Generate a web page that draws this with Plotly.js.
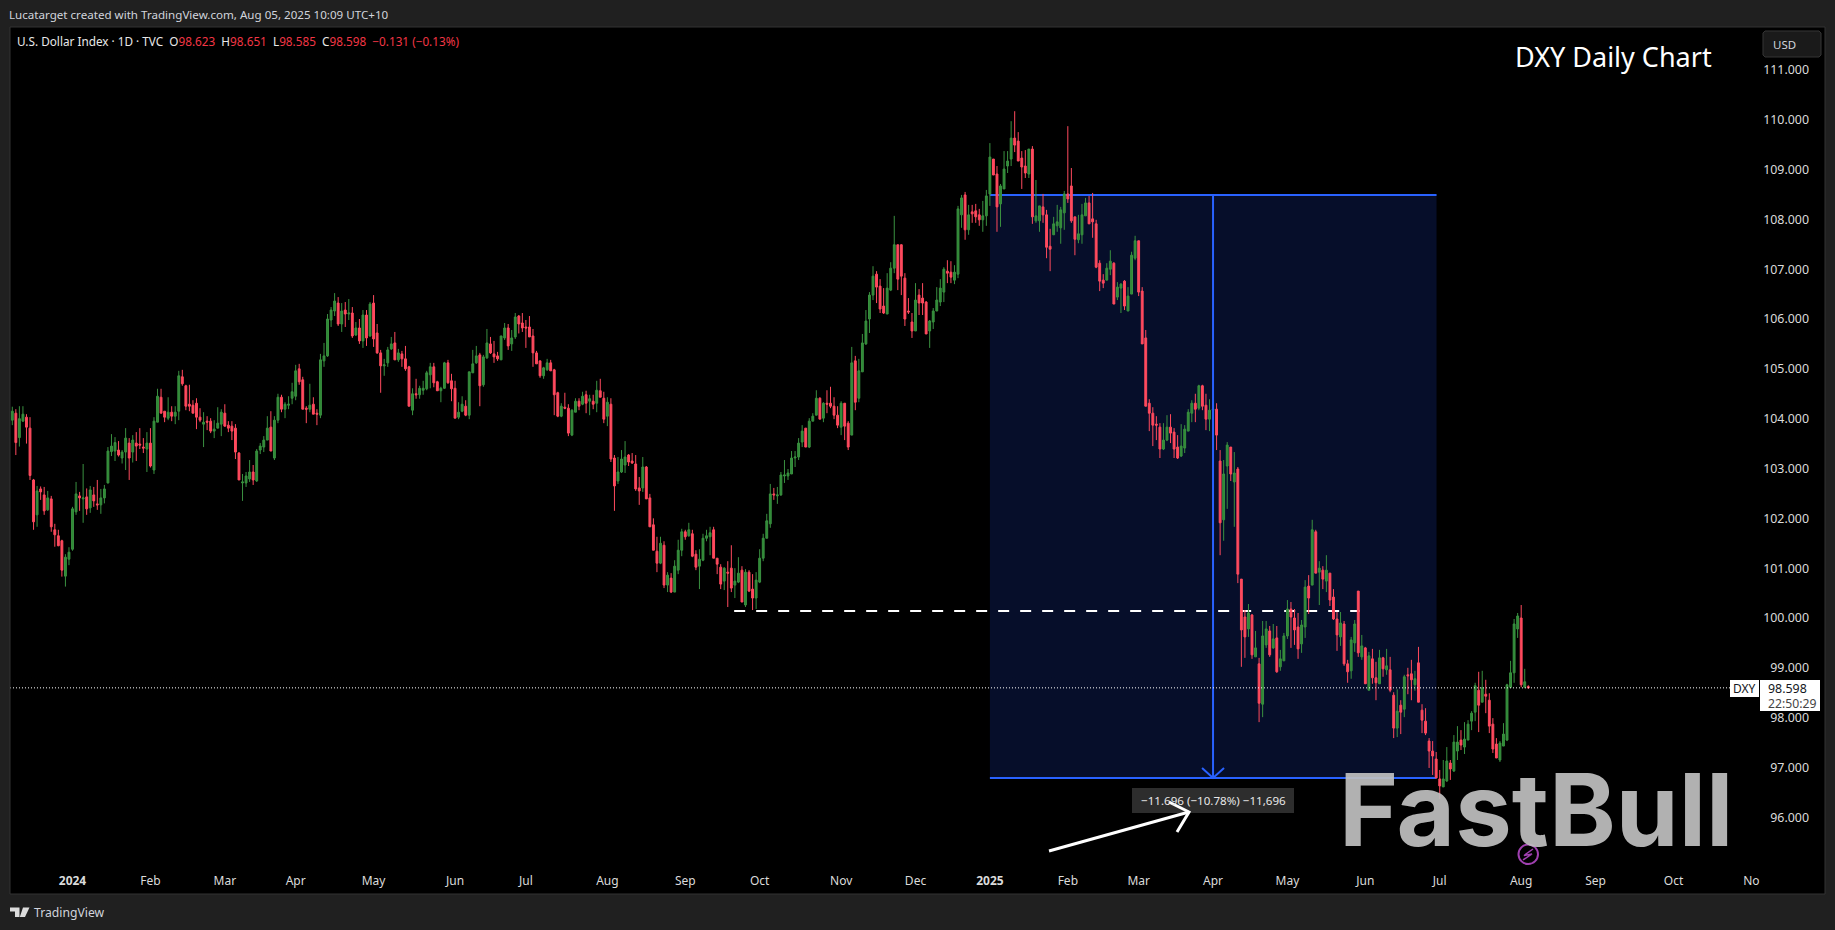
<!DOCTYPE html>
<html><head><meta charset="utf-8">
<script src="https://cdn.plot.ly/plotly-3.0.1.min.js"></script>
<style>html,body{margin:0;padding:0;background:#202020;overflow:hidden}#c{width:1835px;height:930px}</style>
</head><body><div id="c"></div>
<script>
const opens=[103.97,104.11,103.62,103.95,104.03,103.81,102.77,102.07,102.59,102.47,
102.17,102.39,101.77,101.65,101.55,100.84,101.18,101.38,102.13,102.45,
102.39,102.43,102.21,102.47,102.29,102.27,102.41,102.71,103.34,103.35,
103.37,103.21,103.33,103.51,103.33,103.51,103.49,103.43,103.39,103.51,
102.97,103.93,104.43,104.15,104.01,104.13,104.05,104.15,104.84,104.66,
104.29,104.27,104.31,104.03,103.89,103.95,103.95,103.75,103.81,103.89,
104.11,103.87,103.85,103.81,103.31,102.71,102.71,102.79,102.93,102.75,
103.37,103.43,103.57,103.83,103.21,103.97,104.43,104.19,104.27,104.41,
104.45,105.00,104.78,104.21,104.19,104.29,104.11,104.07,105.16,105.26,
105.98,106.16,106.32,105.90,106.18,106.10,106.12,105.68,105.82,105.56,
106.08,105.66,106.32,105.72,105.32,105.06,105.12,105.40,105.52,105.18,
105.30,105.20,105.04,104.17,104.50,104.48,104.57,104.60,104.88,105.04,
104.74,104.56,104.61,105.12,104.76,104.61,104.03,104.15,104.25,104.07,
104.92,105.12,105.28,104.68,105.22,105.50,105.30,105.26,105.18,105.62,
105.82,105.50,105.64,106.06,105.92,105.84,105.84,105.66,105.32,105.16,
104.86,104.98,105.12,104.98,104.52,104.05,104.23,104.21,103.67,104.13,
104.35,104.29,104.48,104.35,104.35,104.31,104.56,104.41,104.05,104.29,
103.21,102.75,102.93,103.07,103.27,103.15,103.09,102.61,102.61,103.03,
102.41,101.87,101.34,101.10,101.46,100.66,100.80,100.52,100.96,101.36,
101.73,101.65,101.69,101.28,101.04,101.16,101.60,101.63,101.77,101.20,
101.02,100.74,100.92,101.00,100.66,100.72,100.96,100.26,100.92,100.58,
100.40,100.72,101.20,101.60,101.89,102.49,102.45,102.47,102.85,102.85,
102.89,103.21,103.23,103.53,103.81,103.43,103.95,104.07,104.41,104.01,
104.31,104.31,104.25,104.07,103.83,104.31,103.91,103.67,105.16,104.41,
104.94,105.50,106.00,106.48,106.90,106.66,106.26,106.10,106.58,107.02,
107.49,107.49,106.82,106.16,105.94,105.76,106.48,106.42,106.34,105.76,
105.94,106.16,106.34,106.54,106.96,106.94,106.78,106.90,108.09,108.49,
107.79,108.15,108.17,108.09,107.99,108.07,108.51,109.21,108.91,108.31,
108.61,109.07,109.21,109.63,109.57,109.23,109.07,108.91,109.41,107.97,
107.97,108.25,108.09,107.46,107.69,107.87,107.83,108.13,108.51,108.67,
108.05,107.59,107.69,108.07,108.33,108.01,107.91,107.12,106.78,106.78,
107.00,107.12,106.44,106.62,106.76,106.16,106.50,107.22,107.57,106.56,
105.62,104.31,104.11,103.89,103.83,103.39,103.57,103.83,103.73,103.43,
103.25,103.41,103.75,104.11,104.31,104.21,104.66,104.27,103.99,104.17,
104.19,103.15,101.97,103.05,103.43,102.73,102.99,100.78,100.02,99.78,
100.06,99.22,99.08,98.27,99.46,99.74,99.40,99.60,99.02,99.14,
99.64,100.18,100.00,99.82,99.48,99.82,100.64,100.66,101.73,100.92,
100.96,100.74,100.90,100.42,99.98,99.62,99.88,99.08,98.94,99.50,
100.54,99.22,99.40,98.55,99.18,98.80,98.68,99.20,98.96,98.96,
98.45,97.79,98.25,98.17,98.86,98.88,98.66,99.10,98.15,97.93,
97.53,97.33,97.17,96.77,96.61,96.73,97.09,96.93,97.33,97.55,
97.41,97.55,97.93,98.11,98.55,98.31,98.47,98.35,97.87,97.47,
97.15,97.43,97.55,98.61,98.90,99.78,100.00,98.61,98.623];
const highs=[104.24,104.19,104.25,104.25,104.09,104.03,102.79,102.65,102.64,102.63,
102.55,102.45,101.89,101.77,101.57,101.28,101.42,102.23,102.73,102.53,
103.09,102.60,102.65,102.63,102.77,102.59,102.67,103.43,103.69,103.63,
103.55,103.37,103.81,103.61,103.67,103.73,103.81,103.61,103.73,103.81,
104.03,104.60,104.60,104.15,104.43,104.25,104.25,104.96,104.98,104.68,
104.68,104.37,104.41,104.21,104.13,104.05,104.01,103.97,104.23,104.19,
104.29,103.95,103.95,103.89,103.33,102.89,102.93,103.17,103.07,103.39,
103.51,103.65,104.05,104.15,104.05,104.50,104.48,104.33,104.45,104.72,
105.08,105.10,104.84,104.25,104.70,104.43,104.19,105.30,105.52,106.10,
106.24,106.52,106.44,106.32,106.34,106.40,106.24,105.94,106.00,106.18,
106.18,106.34,106.48,105.90,105.38,105.20,105.44,105.64,105.74,105.40,
105.36,105.46,105.06,104.61,104.80,104.66,104.76,104.96,105.12,105.12,
104.76,104.64,105.14,105.18,104.90,104.76,104.33,104.45,104.37,104.94,
105.38,105.46,105.32,105.28,105.80,105.64,105.56,105.34,105.66,105.92,
105.90,105.78,106.12,106.08,106.12,105.98,106.06,105.80,105.36,105.16,
105.04,105.20,105.18,105.00,104.54,104.31,104.52,104.29,104.19,104.41,
104.41,104.54,104.56,104.48,104.48,104.76,104.80,104.54,104.43,104.41,
103.27,103.23,103.37,103.55,103.29,103.31,103.27,102.83,103.23,103.05,
102.49,102.00,101.63,101.63,101.54,100.92,100.90,101.16,101.57,101.79,
101.77,101.91,101.77,101.36,101.38,101.69,101.77,101.83,101.83,101.20,
101.08,101.02,101.14,101.46,101.00,101.22,101.04,100.98,100.96,100.88,
100.92,101.38,101.69,102.09,102.69,102.61,102.63,102.93,103.17,102.99,
103.35,103.35,103.61,103.87,103.81,104.01,104.11,104.57,104.43,104.33,
104.57,104.64,104.43,104.25,104.35,104.31,103.95,105.44,105.26,105.20,
105.70,106.18,106.54,107.06,106.96,106.80,106.62,106.92,107.14,108.07,
107.49,107.50,106.92,106.42,106.12,106.72,106.60,106.72,106.36,105.98,
106.22,106.64,106.80,107.04,107.18,107.16,107.08,108.27,108.49,108.55,
108.29,108.29,108.31,108.21,108.37,108.59,109.53,109.21,109.07,108.71,
109.37,109.37,109.97,110.17,109.75,109.37,109.39,109.41,109.47,108.79,
108.27,108.51,108.19,107.81,108.05,108.29,108.25,108.57,109.87,109.03,
108.05,108.09,108.31,108.43,108.47,108.53,107.99,107.18,106.90,107.12,
107.38,107.14,106.74,106.72,106.78,106.64,107.35,107.67,107.57,106.64,
105.78,104.39,104.23,104.05,103.91,103.91,104.07,104.09,103.81,103.67,
103.89,103.87,104.19,104.37,104.50,104.68,104.68,104.50,104.39,104.37,
104.31,103.37,103.17,103.53,103.43,103.33,103.03,100.78,100.16,100.28,
100.08,99.74,99.20,99.94,99.94,99.84,99.88,99.84,99.36,99.70,
100.36,100.32,100.18,100.10,99.96,100.76,100.86,101.97,101.77,101.14,
101.04,101.26,100.90,100.58,100.12,100.12,99.94,99.16,99.62,99.96,
100.54,99.66,99.42,99.32,99.38,99.12,99.36,99.22,99.38,99.22,
98.51,98.57,98.35,98.86,99.00,99.16,98.94,99.42,98.27,98.19,
97.59,97.53,97.31,96.95,97.15,97.41,97.15,97.65,97.83,97.75,
97.91,97.95,98.13,98.70,98.92,98.94,98.76,98.49,97.99,97.59,
97.53,97.89,98.68,99.14,99.98,100.10,100.26,98.98,98.651];
const lows=[103.87,103.27,103.44,103.94,103.50,102.77,101.77,101.83,102.37,102.07,
102.15,101.73,101.43,101.44,100.83,100.63,101.06,101.35,102.07,102.15,
101.91,102.07,102.11,102.23,102.17,102.09,102.30,102.70,103.25,103.15,
103.24,103.10,102.97,102.77,103.12,103.15,103.39,103.31,102.93,103.02,
102.89,103.93,104.11,103.93,103.97,103.95,103.89,103.97,104.66,104.17,
104.15,104.11,103.79,103.93,103.43,103.77,103.71,103.61,103.81,103.65,
103.84,103.73,103.57,103.19,102.77,102.35,102.63,102.73,102.67,102.73,
103.29,103.33,103.57,103.35,103.17,103.91,104.13,104.01,104.19,104.29,
104.37,104.68,104.19,103.91,104.13,104.09,103.87,104.01,105.04,105.24,
105.84,106.06,105.86,105.74,105.84,105.98,105.62,105.66,105.50,105.42,
105.46,105.64,105.44,105.30,104.52,104.86,105.04,105.38,105.18,105.14,
105.04,104.96,104.25,104.07,104.40,104.40,104.48,104.57,104.61,104.63,
104.56,104.33,104.60,104.70,104.35,104.01,103.99,104.13,104.05,103.99,
104.92,105.10,104.25,104.64,105.20,105.30,105.12,105.16,105.18,105.58,
105.38,105.36,105.60,105.71,105.74,105.42,105.64,105.04,105.10,104.82,
104.80,104.96,104.96,104.07,104.03,104.03,104.19,103.65,103.65,104.13,
104.17,104.27,104.11,104.07,104.19,104.13,104.43,103.91,103.85,103.13,
102.15,102.69,102.91,102.91,103.05,103.09,102.55,102.27,102.53,102.39,
101.83,101.36,100.92,101.08,100.60,100.52,100.50,100.52,100.88,101.24,
101.57,101.63,101.22,100.96,100.58,101.14,101.54,101.26,101.20,100.88,
100.58,100.56,100.22,100.52,100.40,100.70,100.32,100.22,100.52,100.16,
100.18,100.70,101.14,101.60,101.81,102.37,102.29,102.45,102.71,102.77,
102.89,103.03,103.17,103.43,103.43,103.41,103.95,104.07,103.99,103.93,
104.11,104.21,103.99,103.81,103.67,103.57,103.37,103.67,104.17,104.33,
104.94,105.48,105.72,106.38,106.32,106.12,106.10,106.10,106.56,106.92,
106.58,106.48,105.86,106.10,105.62,105.76,106.08,106.08,105.70,105.42,
105.80,106.16,106.26,106.34,106.72,106.72,106.70,106.82,107.83,107.59,
107.69,107.93,107.93,107.87,107.75,107.87,108.27,108.89,107.75,107.85,
108.61,108.93,109.07,109.35,109.17,108.61,108.83,108.83,107.91,107.93,
107.75,107.93,107.22,106.96,107.69,107.75,107.51,107.79,108.33,107.93,
107.28,107.52,107.51,108.07,107.91,107.63,107.02,106.56,106.62,106.78,
106.88,106.30,106.38,106.12,106.18,106.16,106.50,107.18,106.46,105.50,
104.25,103.75,103.45,103.57,103.21,103.37,103.55,103.51,103.21,103.19,
103.23,103.31,103.75,103.93,103.93,104.17,104.17,103.77,103.75,103.97,
103.37,101.26,101.55,102.19,102.75,101.83,100.70,99.02,99.20,99.62,
99.18,99.22,97.91,98.01,99.40,99.22,99.38,98.90,98.94,99.14,
99.58,99.40,99.46,99.18,99.30,99.60,100.08,100.66,100.90,100.26,
100.58,100.52,100.24,99.96,99.34,99.44,99.04,98.70,98.78,99.32,
99.22,99.16,98.68,98.55,98.68,98.35,98.68,98.82,98.86,98.51,
97.59,97.61,97.67,98.01,98.47,98.35,98.54,98.31,97.69,97.65,
96.99,96.85,96.79,96.37,96.61,96.71,96.75,96.91,97.15,97.35,
97.27,97.55,97.75,97.93,97.71,98.31,98.09,97.69,97.29,97.19,
97.11,97.43,97.53,98.61,98.70,99.60,98.61,98.59,98.585];
const closes=[104.15,103.52,104.00,104.09,103.83,102.86,101.93,102.55,102.53,102.15,
102.41,101.83,101.67,101.45,100.96,101.22,101.32,102.19,102.49,102.41,
102.41,102.19,102.57,102.35,102.27,102.41,102.59,103.35,103.45,103.52,
103.27,103.33,103.61,103.21,103.57,103.45,103.47,103.41,103.51,103.05,
103.95,104.45,104.11,104.03,104.13,104.05,104.13,104.86,104.70,104.25,
104.25,104.11,104.03,103.97,103.93,103.93,103.75,103.79,103.91,104.13,
103.85,103.81,103.75,103.33,102.77,102.73,102.85,102.93,102.77,103.35,
103.45,103.57,103.81,103.35,103.97,104.43,104.19,104.29,104.29,104.54,
104.96,104.74,104.19,104.19,104.27,104.09,104.09,105.18,105.26,106.00,
106.18,106.36,105.90,106.16,106.10,106.12,105.66,105.82,105.56,106.08,
105.62,106.30,105.60,105.32,105.06,105.08,105.38,105.50,105.18,105.32,
105.20,105.00,104.25,104.50,104.48,104.61,104.61,104.92,105.04,104.72,
104.56,104.61,105.12,104.72,104.60,104.01,104.13,104.29,104.07,104.94,
105.10,105.26,104.66,105.24,105.52,105.32,105.24,105.20,105.66,105.82,
105.46,105.62,106.04,105.90,105.82,105.82,105.64,105.32,105.10,104.86,
105.02,105.12,104.96,104.48,104.05,104.25,104.21,103.71,104.17,104.35,
104.25,104.45,104.31,104.40,104.29,104.57,104.43,103.99,104.33,103.19,
102.65,102.93,103.19,103.23,103.13,103.11,102.59,102.55,103.03,102.39,
101.83,101.36,101.10,101.50,100.66,100.86,100.52,101.04,101.36,101.73,
101.63,101.77,101.24,101.02,101.18,101.60,101.65,101.71,101.20,101.08,
100.68,101.00,100.90,100.60,100.74,100.90,100.32,100.92,100.54,100.40,
100.76,101.20,101.60,101.95,102.49,102.47,102.47,102.87,102.87,102.91,
103.21,103.23,103.51,103.75,103.43,103.95,104.05,104.41,103.99,104.31,
104.29,104.25,104.07,103.87,104.31,103.85,103.43,105.12,104.33,104.96,
105.52,105.96,106.48,106.86,106.64,106.20,106.12,106.62,107.02,107.49,
106.80,106.86,106.00,106.14,105.76,106.38,106.32,106.32,105.70,105.96,
106.16,106.38,106.62,107.00,106.92,106.84,106.94,108.21,108.43,107.79,
108.09,108.11,108.05,107.99,108.07,108.47,109.25,108.89,108.25,108.67,
109.01,109.17,109.63,109.49,109.17,109.05,108.93,109.41,108.05,108.07,
108.27,108.09,107.44,107.40,107.91,107.95,108.19,108.51,108.41,107.97,
107.60,107.71,108.09,108.33,107.91,107.95,107.04,106.76,106.72,107.02,
107.16,106.30,106.64,106.70,106.26,106.46,107.28,107.57,106.54,105.50,
104.25,104.11,103.87,103.87,103.39,103.57,103.83,103.71,103.39,103.21,
103.45,103.79,104.13,104.31,104.19,104.66,104.25,103.99,104.17,104.19,
103.67,101.91,102.89,103.47,102.89,102.91,100.88,99.76,99.62,100.10,
99.26,99.40,98.29,99.64,99.78,99.26,99.58,98.92,99.18,99.64,
100.18,100.02,99.76,99.38,99.86,100.62,100.40,101.77,100.90,101.00,
100.78,100.96,100.36,99.98,99.66,99.90,99.08,98.92,99.56,99.88,
99.30,99.44,98.68,99.24,98.80,98.70,99.20,98.98,99.04,98.55,
97.79,98.13,98.11,98.82,98.84,98.76,98.78,98.31,97.95,97.69,
97.33,97.23,96.79,96.63,96.77,97.13,96.97,97.51,97.51,97.45,
97.57,97.87,98.09,98.64,98.25,98.60,98.43,97.83,97.37,97.19,
97.49,97.67,98.66,98.90,99.88,100.04,98.66,98.72,98.598];
const barIndex=opens.map((_,i)=>i);
const monthBars=[17,39,60,80,102,125,145,168,190,211,234,255,276,298,318,339,360,382,403,426,447,469,491];
const monthLabels=['<b>2024</b>','Feb','Mar','Apr','May','Jun','Jul','Aug','Sep','Oct','Nov','Dec','<b>2025</b>','Feb','Mar','Apr','May','Jun','Jul','Aug','Sep','Oct','No'];
const priceTicks=[96,97,98,99,100,101,102,103,104,105,106,107,108,109,110,111];
const measureTop=108.49, measureBottom=96.79, measureStartBar=276, measureEndBar=402.1, measureMidBar=339;
const supportLevel=100.14, supportStartBar=203.8, supportEndBar=380.4;
const lastPrice=98.598;

const FONT='"Noto Sans",sans-serif';
const W=1835,H=930,L=10,R=1825,T=27,B=894;
const px=x=>(x-L)/(R-L), py=y=>(B-y)/(B-T);
const pPath=pts=>pts.map((p,i)=>(i?'L':'M')+px(p[0]).toFixed(5)+' '+py(p[1]).toFixed(5)).join(' ');
const box=(x0,y0,x1,y1,fill,line)=>({type:'rect',xref:'paper',yref:'paper',x0:px(x0),x1:px(x1),y0:py(y0),y1:py(y1),fillcolor:fill,line:{color:line||fill,width:line?1:0},layer:'above'});
const poly=(pts,fill)=>({type:'path',xref:'paper',yref:'paper',path:pPath(pts)+' Z',fillcolor:fill,line:{width:0},layer:'above'});
const stroke=(pts,color,w)=>({type:'path',xref:'paper',yref:'paper',path:pPath(pts),line:{color:color,width:w},layer:'above'});
const txt=(x,y,text,size,color,anchor,extra)=>Object.assign({xref:'paper',yref:'paper',x:px(x),y:py(y),text:text,showarrow:false,xanchor:anchor||'left',yanchor:'middle',align:anchor||'left',borderpad:0,font:{family:FONT,size:size,color:color}},extra||{});

const RED='#f23645';
const red=s=>`<span style="color:${RED}">${s}</span>`;
const legend='U.S. Dollar Index · 1D · TVC\u00a0\u00a0O'+red('98.623')+'\u00a0\u00a0H'+red('98.651')+'\u00a0\u00a0L'+red('98.585')+'\u00a0\u00a0C'+red('98.598')+'\u00a0\u00a0'+red('−0.131 (−0.13%)');

const trace={type:'candlestick',x:barIndex,open:opens,high:highs,low:lows,close:closes,whiskerwidth:0,
 increasing:{line:{color:'#3a9140',width:1},fillcolor:'#2f8a35'},
 decreasing:{line:{color:'#ff4a5e',width:1},fillcolor:'#ff4a5e'},hoverinfo:'skip',showlegend:false};

const layout={width:W,height:H,paper_bgcolor:'#202020',plot_bgcolor:'#000',showlegend:false,boxgap:0.25,
 margin:{l:L,r:W-R,t:T,b:H-B,pad:0,autoexpand:false},
 xaxis:{type:'linear',range:[(L-12.3)/3.542,(R-12.3)/3.542],tickmode:'array',tickvals:monthBars,ticktext:monthLabels,
  showgrid:false,zeroline:false,showline:false,ticks:'',ticklabelposition:'inside',ticklabelstandoff:4,tickangle:0,
  tickfont:{family:FONT,size:12,color:'#dbdbdb'},rangeslider:{visible:false},fixedrange:true},
 yaxis:{type:'linear',side:'right',range:[94.461,111.860],tickmode:'array',tickvals:priceTicks,tickformat:'.3f',
  showgrid:false,zeroline:false,showline:false,ticks:'',ticklabelposition:'inside',ticklabelstandoff:13,
  tickfont:{family:FONT,size:12.4,color:'#dbdbdb'},fixedrange:true},
 shapes:[
  {type:'rect',xref:'x',yref:'y',x0:measureStartBar,x1:measureEndBar,y0:measureBottom,y1:measureTop,fillcolor:'#060e2a',line:{width:0},layer:'below'},
  {type:'line',xref:'x',yref:'y',x0:measureStartBar,x1:measureEndBar,y0:measureTop,y1:measureTop,line:{color:'#2962ff',width:2},layer:'below'},
  {type:'line',xref:'x',yref:'y',x0:measureStartBar,x1:measureEndBar,y0:measureBottom,y1:measureBottom,line:{color:'#2962ff',width:2},layer:'below'},
  {type:'line',xref:'x',yref:'y',x0:supportStartBar,x1:supportEndBar,y0:supportLevel,y1:supportLevel,line:{color:'#ffffff',width:2,dash:'11px,11px'},layer:'below'},
  {type:'line',xref:'x',yref:'y',x0:measureMidBar,x1:measureMidBar,y0:measureBottom,y1:measureTop,line:{color:'#2962ff',width:2},layer:'above'},
  {type:'path',xref:'x',yref:'y',path:`M ${measureMidBar-3.1} ${measureBottom+0.2} L ${measureMidBar} ${measureBottom} L ${measureMidBar+3.1} ${measureBottom+0.2}`,line:{color:'#2962ff',width:2},layer:'above'},
  {type:'line',xref:'paper',yref:'y',x0:0,x1:px(1730),y0:lastPrice,y1:lastPrice,line:{color:'#ffffff',width:1,dash:'1px,2px'},layer:'above'},
  box(1132,788,1294,813,'#2d2d2d'),
  stroke([[1049,851],[1189,812]],'#ffffff',3),
  stroke([[1169,802],[1189,812],[1177,832]],'#ffffff',3),
  box(1730,680,1759,697,'#ffffff'),
  box(1760,680,1820,711,'#ffffff'),
  {type:'path',xref:'paper',yref:'paper',path:pPath([[1765,31],[1819,31],[1821,33],[1821,55],[1819,57],[1765,57],[1763,55],[1763,33]])+' Z',fillcolor:'#1a1a1a',line:{color:'#363636',width:1},layer:'above'},
  {type:'rect',xref:'paper',yref:'paper',x0:0,x1:1,y0:0,y1:1,line:{color:'#333333',width:1},layer:'above'},
  {type:'circle',xref:'paper',yref:'paper',x0:px(1518.5),x1:px(1538),y0:py(864),y1:py(844.5),line:{color:'#a040b0',width:2},fillcolor:'rgba(0,0,0,0)',layer:'above'},
  stroke([[1533,849],[1524,855.5],[1532,854],[1523,860]],'#a040b0',1.5),
  poly([[10,907.5],[19.5,907.5],[19.5,917],[15,917],[15,911.5],[10,911.5]],'#dcdcdc'),
  poly([[23,907.5],[29.5,907.5],[25,917],[19.8,917]],'#dcdcdc')
 ],
 annotations:[
  txt(8,14,'Lucatarget created with TradingView.com, Aug 05, 2025 10:09 UTC+10',11.6,'#d1d4dc'),
  txt(15.5,41,legend,11.75,'#e8e8e8'),
  txt(1514,57,'DXY Daily Chart',27,'#ffffff'),
  txt(1772,44.5,'USD',11.5,'#d1d4dc'),
  txt(1213,800.5,'−11.696 (−10.78%) −11,696',11.6,'#e8e8e8','center'),
  txt(1744.5,688.5,'DXY',12,'#131722','center'),
  txt(1767,688.5,'98.598',12.4,'#131722'),
  txt(1767,703,'22:50:29',12.2,'#444444'),
  txt(33,912,'TradingView',12.2,'#d1d4dc'),
  Object.assign(txt(1338,809,'FastBull',101,'#000'),{font:{family:'Inter,sans-serif',size:101,weight:700,color:'rgba(192,192,192,0.92)'}})
 ]};
Plotly.newPlot('c',[trace],layout,{displayModeBar:false,staticPlot:true});
</script></body></html>
